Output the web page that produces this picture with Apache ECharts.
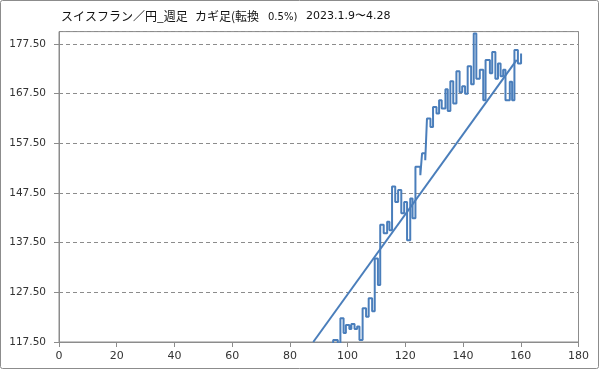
<!DOCTYPE html>
<html><head><meta charset="utf-8">
<script src="https://cdn.jsdelivr.net/npm/echarts@6/dist/echarts.min.js"></script>
<style>html,body{margin:0;padding:0;background:#fff}#c{width:599px;height:369px}</style>
</head><body><div id="c"></div>
<script>
// Kagi line: x position of each reversal leg and the level reached
const kagiX = [94.0,95.0,96.6,97.5,98.6,99.4,100.6,101.3,102.4,103.3,104.1,105.2,106.4,107.3,108.5,109.4,110.5,111.3,112.5,113.7,114.5,115.4,116.5,117.5,118.6,119.6,120.6,121.7,122.5,123.5,125.2,125.8,126.9,127.5,128.7,129.6,130.8,131.7,132.6,133.9,134.7,135.6,136.6,137.7,138.8,139.7,140.7,141.6,142.8,143.7,144.6,145.8,147.0,147.8,149.3,150.1,151.2,152.1,153.0,153.9,154.7,156.2,157.0,157.8,159.0,160.1];
const kagiY = [112,117.9,116,122.3,119.3,120.9,120.1,121.1,120.1,120.6,117.9,124.3,122.6,126.3,123.7,134.3,129.0,141.1,139.4,141.7,140.0,148.8,145.7,148.1,143.4,145.7,138.0,146.4,142.4,152.8,151.1,155.5,154.1,162.5,160.8,164.8,163.5,166.2,164.5,168.4,164.0,170.0,165.5,172.0,167.8,169.0,167.5,173.0,169.4,179.6,170.5,172.3,166.2,174.3,171.6,175.9,170.5,173.6,171.0,172.3,166.2,169.9,166.2,176.3,173.6,175.6];
// Trend line end points
const trendX = [88.1, 158.6];
const trendY = [117.5, 174.3];
// Axes
const xTicks = {min:0, max:180, step:20};
const yTicks = {min:117.5, max:180, step:10};
const titleParts = ['スイスフラン／円_週足', 'カギ足(転換', '0.5%)', '2023.1.9〜4.28'];

const blue = '#4A7EBB';
const chart = echarts.init(document.getElementById('c'));
const kagiData = kagiX.map((x,i)=>[x,kagiY[i]]);
const trendData = trendX.map((x,i)=>[x,trendY[i]]);
chart.setOption({
  animation:false,
  backgroundColor:'#fff',
  grid:{left:59, right:20.5, top:31.6, bottom:27, show:true, borderColor:'#8c8c8c', borderWidth:1, containLabel:false},
  xAxis:{type:'value', min:xTicks.min, max:xTicks.max, interval:xTicks.step,
    axisLine:{show:true, onZero:false, lineStyle:{color:'#8c8c8c', width:1}},
    axisTick:{show:true, inside:false, length:5, lineStyle:{color:'#8c8c8c'}},
    axisLabel:{color:'#333', fontSize:11, fontFamily:'DejaVu Sans', margin:9},
    splitLine:{show:false}},
  yAxis:{type:'value', min:yTicks.min, max:yTicks.max, interval:yTicks.step,
    axisLine:{show:true, onZero:false, lineStyle:{color:'#8c8c8c', width:1}},
    axisTick:{show:true, inside:false, length:5, lineStyle:{color:'#8c8c8c'}},
    axisLabel:{color:'#333', fontSize:10.5, fontFamily:'DejaVu Sans', margin:13, showMaxLabel:false,
      formatter:v=> (v>=yTicks.max? '' : v.toFixed(2))},
    splitLine:{show:true, lineStyle:{color:'#8c8c8c', type:[4,3], width:1}}},
  graphic:[
    {type:'rect', shape:{x:0.5,y:0.5,width:598,height:368,r:2}, style:{fill:'none', stroke:'#8c8c8c', lineWidth:1}, silent:true},
    {type:'text', left:61, top:10, style:{text:titleParts[0], font:'12px "Noto Sans CJK JP"', fill:'#111'}},
    {type:'text', left:195, top:10, style:{text:titleParts[1], font:'12px "Noto Sans CJK JP"', fill:'#111'}},
    {type:'text', left:268, top:12, style:{text:titleParts[2], font:'10px "DejaVu Sans"', fill:'#111'}},
    {type:'text', left:306, top:11, style:{text:titleParts[3], font:'11px "DejaVu Sans"', fill:'#111'}}
  ],
  series:[
    {type:'line', data:kagiData, step:'end', showSymbol:false, clip:true,
      lineStyle:{color:blue, width:2}, z:3},
    {type:'line', data:trendData, showSymbol:false, clip:true,
      lineStyle:{color:blue, width:2}, z:2}
  ]
});
</script></body></html>
